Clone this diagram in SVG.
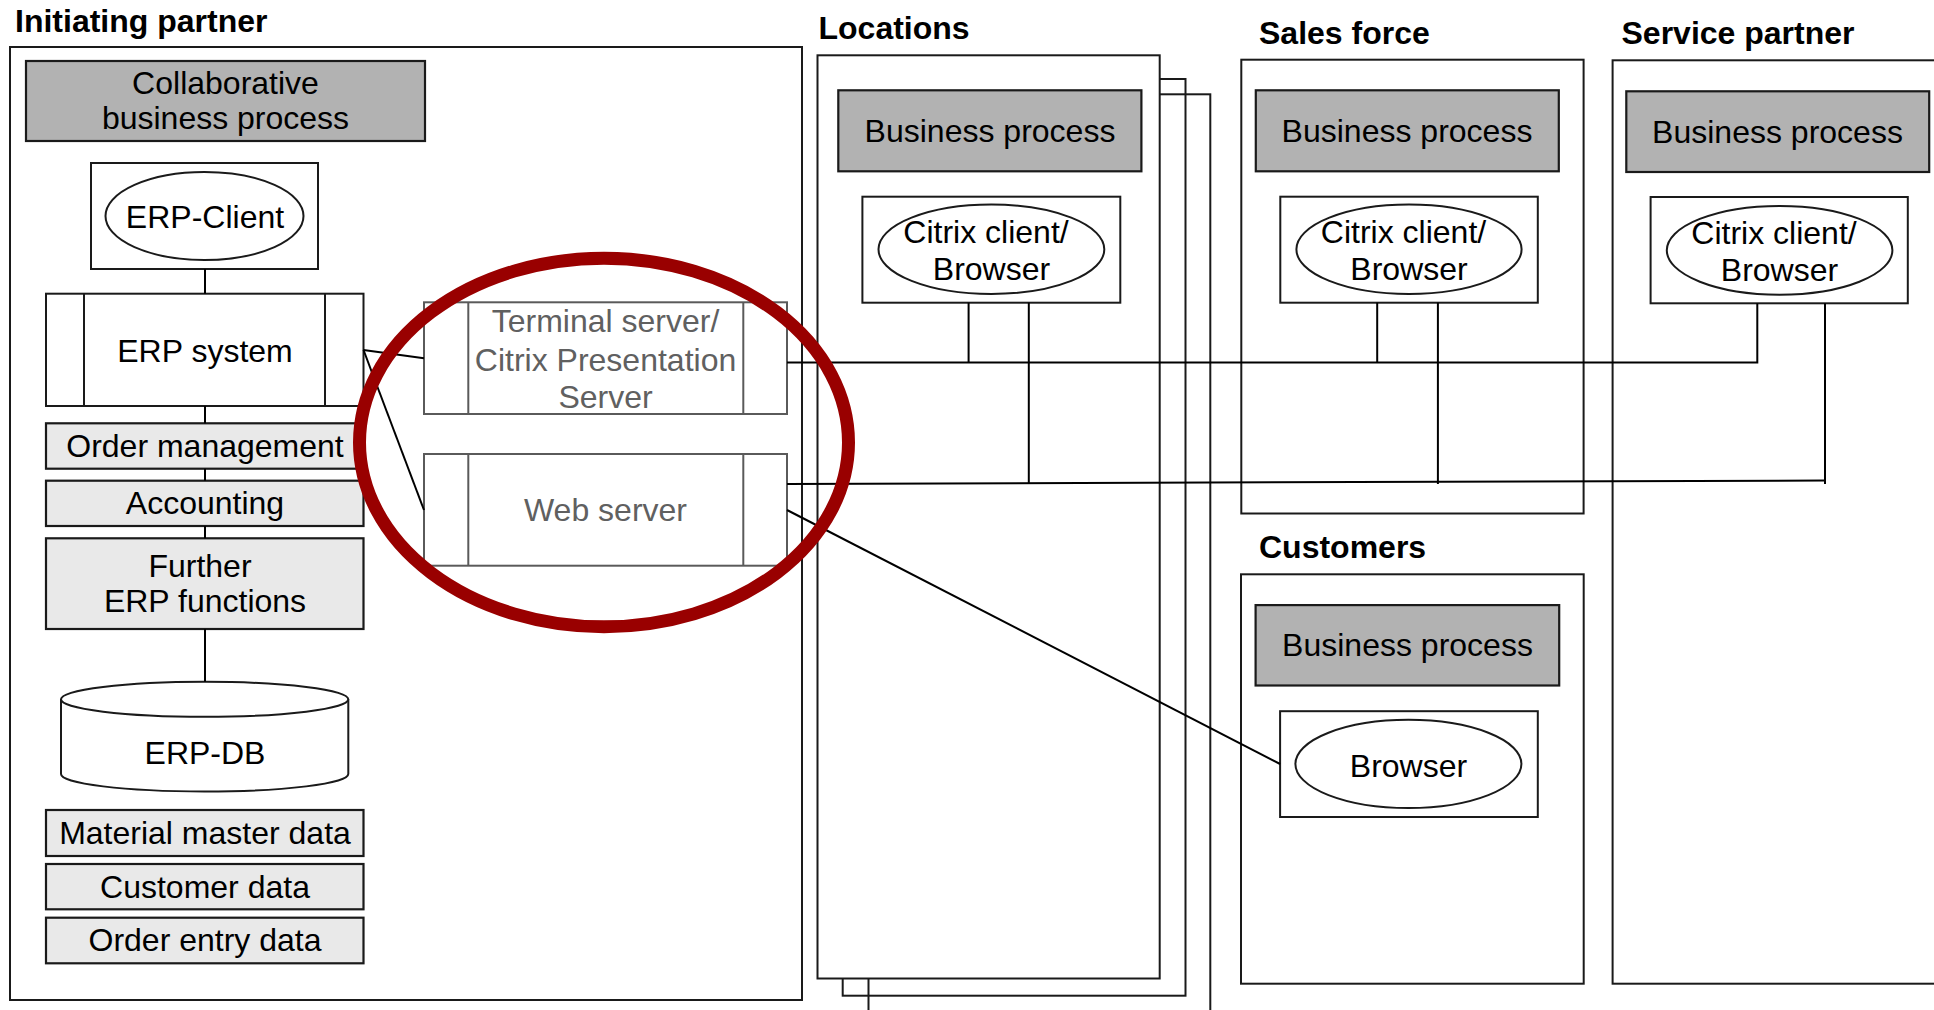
<svg xmlns="http://www.w3.org/2000/svg" width="1934" height="1010" viewBox="0 0 1934 1010">
  <style>
    text { font-family: "Liberation Sans", Arial, sans-serif; font-size: 32px; fill: #000; text-anchor: middle; }
    .title { font-weight: bold; text-anchor: start; }
    .frame { fill: #fff; stroke: #1a1a1a; stroke-width: 2; }
    .outline { fill: none; stroke: #1a1a1a; stroke-width: 2; }
    .proc { fill: #b2b2b2; stroke: #1a1a1a; stroke-width: 2.2; }
    .func { fill: #e9e9e9; stroke: #1a1a1a; stroke-width: 2.2; }
    .box { fill: #fff; stroke: #1a1a1a; stroke-width: 2; }
    .srv { fill: #fff; stroke: #5a5a5a; stroke-width: 2; }
    .srvline { stroke: #5a5a5a; stroke-width: 2; }
    .srvtext { fill: #606060; }
    .conn { fill: none; stroke: #000; stroke-width: 2; }
    .mark { fill: none; stroke: #990000; stroke-width: 13; }
  </style>

  <!-- Initiating partner -->
  <g id="initiating-partner">
    <text class="title" x="15" y="32">Initiating partner</text>
    <rect class="frame" x="10" y="47" width="792" height="953"/>
  </g>
  <g id="collab-process">
    <rect class="proc" x="26" y="61" width="399" height="80"/>
    <text x="225.5" y="94">Collaborative</text>
    <text x="225.5" y="128.5">business process</text>
  </g>
  <g id="erp-client">
    <rect class="box" x="91" y="163" width="227" height="106"/>
    <ellipse class="box" cx="204.5" cy="216" rx="99" ry="44"/>
    <text x="205" y="228">ERP-Client</text>
  </g>
  <g id="erp-system">
    <rect class="box" x="46" y="293.7" width="317.5" height="112.3"/>
    <line class="outline" x1="84" y1="293.7" x2="84" y2="406"/>
    <line class="outline" x1="325" y1="293.7" x2="325" y2="406"/>
    <text x="205" y="362">ERP system</text>
  </g>
  <g id="order-management">
    <rect class="func" x="46" y="423.3" width="317.5" height="45.4"/>
    <text x="205" y="457">Order management</text>
  </g>
  <g id="accounting">
    <rect class="func" x="46" y="480.7" width="317.5" height="45.3"/>
    <text x="205" y="514">Accounting</text>
  </g>
  <g id="further-functions">
    <rect class="func" x="46" y="538.3" width="317.5" height="90.7"/>
    <text x="200" y="577">Further</text>
    <text x="205" y="612">ERP functions</text>
  </g>
  <g id="erp-db">
    <path class="box" d="M61,699.3 A143.65,17.5 0 0 1 348.3,699.3 V774 A143.65,17.5 0 0 1 61,774 Z"/>
    <path class="outline" d="M61,699.3 A143.65,17.5 0 0 0 348.3,699.3"/>
    <text x="205" y="763.5">ERP-DB</text>
  </g>
  <g id="material-master-data">
    <rect class="func" x="46" y="810" width="317.5" height="46"/>
    <text x="205" y="843.5">Material master data</text>
  </g>
  <g id="customer-data">
    <rect class="func" x="46" y="864" width="317.5" height="45.3"/>
    <text x="205" y="897.5">Customer data</text>
  </g>
  <g id="order-entry-data">
    <rect class="func" x="46" y="917.7" width="317.5" height="45.6"/>
    <text x="205" y="951">Order entry data</text>
  </g>
  <g id="terminal-server">
    <rect class="srv" x="424" y="302.3" width="363" height="111.7"/>
    <line class="srvline" x1="468.3" y1="302.3" x2="468.3" y2="414"/>
    <line class="srvline" x1="743.3" y1="302.3" x2="743.3" y2="414"/>
    <text class="srvtext" x="605.5" y="332">Terminal server/</text>
    <text class="srvtext" x="605.5" y="370.5">Citrix Presentation</text>
    <text class="srvtext" x="605.5" y="408">Server</text>
  </g>
  <g id="web-server">
    <rect class="srv" x="424" y="454" width="363" height="111.7"/>
    <line class="srvline" x1="468.3" y1="454" x2="468.3" y2="565.7"/>
    <line class="srvline" x1="743.3" y1="454" x2="743.3" y2="565.7"/>
    <text class="srvtext" x="605.5" y="521">Web server</text>
  </g>

  <!-- Locations (stack of sites) -->
  <g id="locations">
    <text class="title" x="818.5" y="38.5">Locations</text>
    <rect class="outline" x="868.5" y="94.3" width="341.8" height="940"/>
    <rect class="outline" x="842.7" y="79" width="342.8" height="916.7"/>
    <rect class="frame" x="817.5" y="55.3" width="342.2" height="923.2"/>
  </g>
  <g id="locations-process">
    <rect class="proc" x="838.3" y="90.3" width="303.1" height="81"/>
    <text x="990" y="142">Business process</text>
  </g>
  <g id="locations-client">
    <rect class="box" x="862.4" y="196.7" width="257.9" height="106"/>
    <ellipse class="box" cx="991.4" cy="249.3" rx="112.9" ry="44.7"/>
    <text x="986" y="243">Citrix client/</text>
    <text x="991.5" y="280">Browser</text>
  </g>

  <!-- Sales force -->
  <g id="sales-force">
    <text class="title" x="1259" y="43.5">Sales force</text>
    <rect class="frame" x="1241.3" y="59.7" width="342.3" height="453.8"/>
  </g>
  <g id="sales-process">
    <rect class="proc" x="1255.8" y="90.3" width="303" height="81"/>
    <text x="1407" y="142">Business process</text>
  </g>
  <g id="sales-client">
    <rect class="box" x="1280.3" y="196.7" width="257.5" height="106"/>
    <ellipse class="box" cx="1409" cy="249.3" rx="112.6" ry="44.7"/>
    <text x="1403.5" y="243">Citrix client/</text>
    <text x="1409" y="280">Browser</text>
  </g>

  <!-- Service partner -->
  <g id="service-partner">
    <text class="title" x="1621.5" y="43.5">Service partner</text>
    <rect class="frame" x="1612.6" y="60.3" width="360" height="923.4"/>
  </g>
  <g id="service-process">
    <rect class="proc" x="1626.3" y="91.3" width="302.9" height="80.7"/>
    <text x="1777.5" y="143">Business process</text>
  </g>
  <g id="service-client">
    <rect class="box" x="1650.6" y="197" width="257.2" height="106.3"/>
    <ellipse class="box" cx="1779.6" cy="250.3" rx="112.8" ry="44.4"/>
    <text x="1774" y="243.5">Citrix client/</text>
    <text x="1779.5" y="280.5">Browser</text>
  </g>

  <!-- Customers -->
  <g id="customers">
    <text class="title" x="1259" y="558">Customers</text>
    <rect class="frame" x="1241" y="574.3" width="342.7" height="409.4"/>
  </g>
  <g id="customers-process">
    <rect class="proc" x="1255.6" y="605.1" width="303.6" height="80.4"/>
    <text x="1407.5" y="656">Business process</text>
  </g>
  <g id="customers-browser">
    <rect class="box" x="1280.1" y="711.2" width="257.7" height="105.8"/>
    <ellipse class="box" cx="1408.4" cy="763.9" rx="113" ry="44.1"/>
    <text x="1408.5" y="777">Browser</text>
  </g>

  <!-- Connectors -->
  <g id="connectors">
    <line class="conn" x1="205" y1="269" x2="205" y2="293.7"/>
    <line class="conn" x1="205" y1="406" x2="205" y2="423.3"/>
    <line class="conn" x1="205" y1="468.7" x2="205" y2="480.7"/>
    <line class="conn" x1="205" y1="526" x2="205" y2="538.3"/>
    <line class="conn" x1="205" y1="629" x2="205" y2="681.8"/>
    <line class="conn" x1="363.5" y1="350" x2="424" y2="358.3"/>
    <line class="conn" x1="363.5" y1="350" x2="424" y2="510"/>
    <!-- terminal server bus -->
    <polyline class="conn" points="787,362.5 1757.3,362.5 1757.3,303.3"/>
    <line class="conn" x1="968.6" y1="302.7" x2="968.6" y2="362.5"/>
    <line class="conn" x1="1377.2" y1="302.7" x2="1377.2" y2="362.5"/>
    <!-- web server bus -->
    <polyline class="conn" points="787,484 1825,480.5"/>
    <line class="conn" x1="1825" y1="303.3" x2="1825" y2="484"/>
    <line class="conn" x1="1028.8" y1="302.7" x2="1028.8" y2="483.5"/>
    <line class="conn" x1="1437.9" y1="302.7" x2="1437.9" y2="484"/>
    <!-- web server to customer browser -->
    <line class="conn" x1="787" y1="510" x2="1280.1" y2="764"/>
  </g>

  <!-- highlight around the server layer -->
  <ellipse class="mark" cx="604" cy="442.5" rx="244.5" ry="184.3"/>
</svg>
